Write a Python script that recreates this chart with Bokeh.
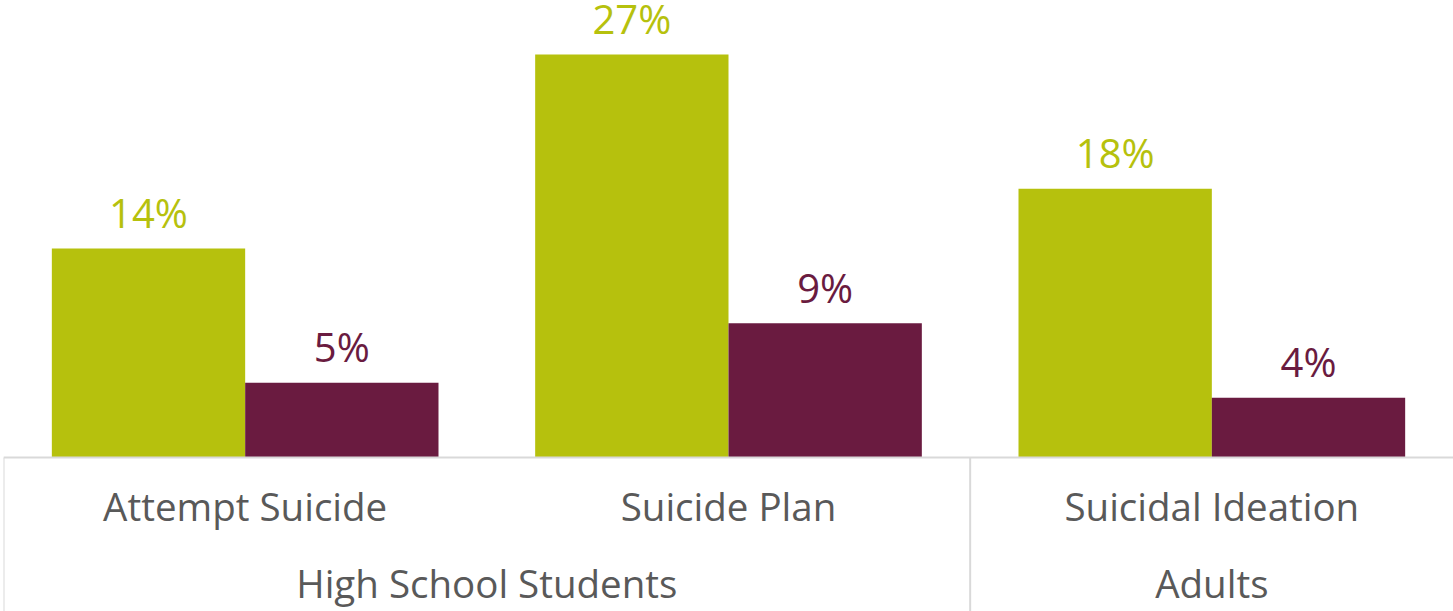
from bokeh.plotting import figure
from bokeh.models import ColumnDataSource, FactorRange, Span
from bokeh.transform import dodge
from bokeh.core.properties import value
from bokeh.embed import file_html
from bokeh.resources import INLINE

categories = ["Attempt Suicide", "Suicide Plan", "Suicidal Ideation"]
groups = ["High School Students", "Adults"]
group_anchor = ["Suicide Plan", "Suicidal Ideation"]   # factor whose position the group label is tied to
group_offset = [-0.5, 0.0]
series_a = [14, 27, 18]
series_b = [5, 9, 4]

GREEN = "#B6C10D"
MAROON = "#6A1B40"
GREY_TEXT = "#595959"
GRID = "#D9D9D9"
FONT = "Open Sans"

W, H = 1453, 611
left = 3
px_per_unit = 14.93
base_px = 457
y_top = base_px / px_per_unit
y_bottom = -(H - base_px) / px_per_unit

p = figure(width=W, height=H, x_range=FactorRange(*categories, range_padding=0),
           y_range=(y_bottom, y_top), output_backend="svg", toolbar_location=None,
           min_border_left=left, min_border_right=0, min_border_top=0, min_border_bottom=0)
p.x_range.range_padding = 0
p.axis.visible = False
p.grid.visible = False
p.outline_line_color = None
p.background_fill_color = "white"
p.border_fill_color = "white"

src = ColumnDataSource(dict(
    cat=categories, a=series_a, b=series_b,
    a_lab=[f"{v}%" for v in series_a], b_lab=[f"{v}%" for v in series_b],
    zero=[0] * len(categories),
))

p.vbar(x=dodge("cat", -0.2, range=p.x_range), top="a", bottom=0, width=0.4,
       source=src, fill_color=GREEN, line_color=None)
p.vbar(x=dodge("cat", 0.2, range=p.x_range), top="b", bottom=0, width=0.4,
       source=src, fill_color=MAROON, line_color=None)

p.text(x=dodge("cat", -0.2, range=p.x_range), y="a", text="a_lab", source=src,
       text_align="center", text_baseline="alphabetic", y_offset=-36,
       text_font=value(FONT), text_font_size="40px", text_color=GREEN)
p.text(x=dodge("cat", 0.2, range=p.x_range), y="b", text="b_lab", source=src,
       text_align="center", text_baseline="alphabetic", y_offset=-36,
       text_font=value(FONT), text_font_size="40px", text_color=MAROON)

# baseline axis line
p.add_layout(Span(location=0, dimension="width", line_color=GRID, line_width=2))

# vertical group separators below the axis
sep = ColumnDataSource(dict(cat=["Attempt Suicide", "Suicidal Ideation"],
                            y0=[0, 0], y1=[y_bottom, y_bottom]))
p.segment(x0=dodge("cat", -0.5, range=p.x_range), x1=dodge("cat", -0.5, range=p.x_range),
          y0="y0", y1="y1", source=sep, line_color=GRID, line_width=2)

# category labels
p.text(x="cat", y="zero", text="cat", source=src, y_offset=48,
       text_align="center", text_baseline="alphabetic",
       text_font=value(FONT), text_font_size="38.5px", text_color=GREY_TEXT)

# group labels
gsrc = ColumnDataSource(dict(label=groups, zero=[0, 0]))
gsrc.data["gx"] = [(a, o) for a, o in zip(group_anchor, group_offset)]
p.text(x="gx", y="zero", text="label", source=gsrc, y_offset=125,
       text_align="center", text_baseline="alphabetic",
       text_font=value(FONT), text_font_size="38.5px", text_color=GREY_TEXT)

open("out.html", "w").write(file_html(p, INLINE))
